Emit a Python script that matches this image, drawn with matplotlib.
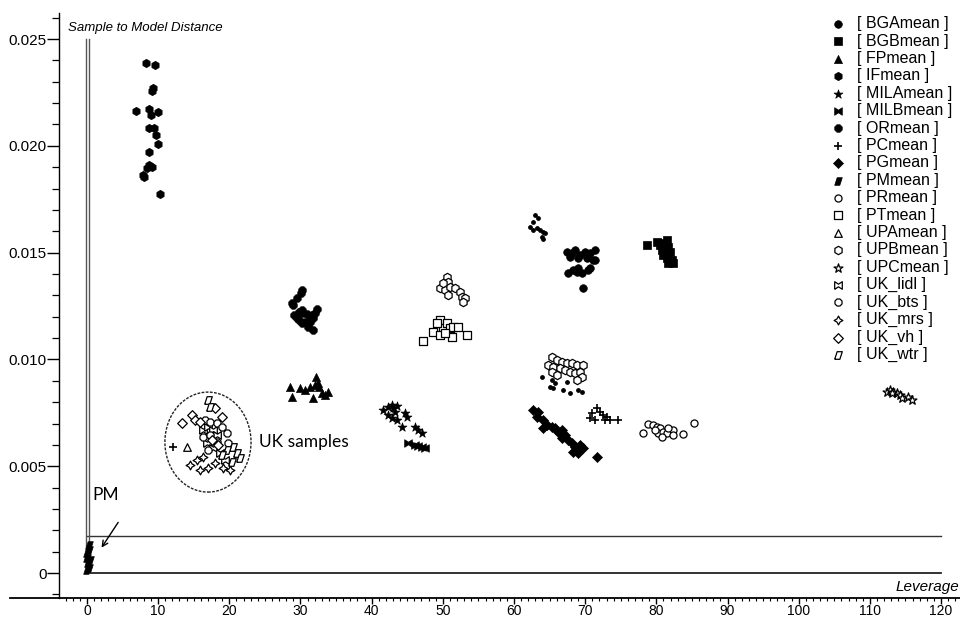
import matplotlib
matplotlib.use("Agg")
import matplotlib.pyplot as plt
from matplotlib import font_manager
from matplotlib.patches import Ellipse
from matplotlib.lines import Line2D
from matplotlib.ticker import MultipleLocator, FuncFormatter

# leverage / sample-to-model distance for each group
bga_lev = [67.4, 68.1, 68.57, 69.27, 69.97, 70.68, 71.38, 67.87, 69.03, 70.21, 71.14,
           67.63, 68.33, 69.03, 69.5, 70.44, 70.68, 69.74, 68.8, 71.38]
bga_dist = [0.01504, 0.01497, 0.01512, 0.01489, 0.01504, 0.01497, 0.01512, 0.01481, 0.01473,
            0.01473, 0.01465, 0.01406, 0.01419, 0.01427, 0.01403, 0.01419, 0.01427, 0.01333,
            0.01411, 0.01465]

bgb_lev = [78.64, 80.05, 80.51, 80.98, 81.45, 81.68, 80.75, 81.21, 81.92, 81.45, 82.15,
           82.38, 81.68, 80.98]
bgb_dist = [0.01536, 0.01551, 0.01536, 0.01544, 0.01559, 0.01528, 0.01512, 0.01497, 0.01504,
            0.01473, 0.01465, 0.0145, 0.0145, 0.01489]

fp_lev = [28.52, 28.85, 29.93, 30.63, 31.33, 32.13, 32.04, 32.64, 32.97, 33.44, 33.91, 31.8, 32.5]
fp_dist = [0.00872, 0.00826, 0.00865, 0.00857, 0.00869, 0.00919, 0.0088, 0.00872, 0.00841,
           0.00833, 0.00849, 0.00818, 0.00888]

if_lev = [8.25, 9.6, 9.23, 9.09, 6.84, 8.71, 8.99, 10.02, 8.71, 9.46, 9.65, 9.98, 8.67,
          8.75, 9.09, 8.43, 7.91, 8.05, 10.21]
if_dist = [0.02389, 0.02378, 0.02269, 0.02258, 0.02164, 0.02171, 0.02144, 0.0216, 0.02082,
           0.02085, 0.02051, 0.02008, 0.01971, 0.0191, 0.01902, 0.01895, 0.01863, 0.01855,
           0.01773]

mila_lev = [41.64, 42.34, 42.81, 43.04, 43.28, 43.51, 42.34, 42.81, 43.51, 44.22, 44.68,
            45.01, 46.09, 46.55, 47.03]
mila_dist = [0.00763, 0.00779, 0.00787, 0.00771, 0.00755, 0.00782, 0.0074, 0.00724, 0.00716,
             0.00685, 0.00748, 0.00732, 0.00685, 0.00669, 0.00654]

milb_lev = [45.15, 46.09, 46.55, 47.03, 47.49]
milb_dist = [0.00607, 0.00599, 0.00595, 0.00591, 0.00584]

or_lev = [30.17, 30.02, 29.46, 28.85, 28.99, 29.13, 29.46, 29.83, 30.17, 30.31, 30.87,
          29.83, 30.17, 30.63, 31.33, 31.8, 32.27, 32.04, 31.57, 31.8, 31.1, 31.33]
or_dist = [0.01325, 0.01309, 0.01286, 0.01266, 0.01255, 0.01208, 0.01192, 0.01223, 0.01231,
           0.01216, 0.01211, 0.01184, 0.01169, 0.01177, 0.01177, 0.01192, 0.01235, 0.01216,
           0.01208, 0.01138, 0.01153, 0.012]

pc_lev = [70.91, 71.62, 72.08, 72.55, 73.02, 73.48, 72.78, 74.65, 70.68, 71.38, 12.04]
pc_dist = [0.00748, 0.00771, 0.00755, 0.0074, 0.00732, 0.00716, 0.00716, 0.00716, 0.00724,
           0.00716, 0.00591]

pg_lev = [62.71, 63.41, 63.19, 64.12, 64.59, 64.12, 65.29, 65.76, 66.22, 66.7, 67.16, 66.7,
          67.63, 68.1, 68.57, 69.27, 68.33, 69.74, 69.03, 71.62]
pg_dist = [0.00763, 0.00755, 0.00732, 0.00716, 0.00693, 0.00677, 0.00685, 0.00677, 0.00662,
           0.00669, 0.00646, 0.00631, 0.00623, 0.00607, 0.00591, 0.00599, 0.00568, 0.00584,
           0.0056, 0.00545]

pm_lev = [0.33, 0.05, 0.0, 0.19, 0.33, 0.05, 0.42, 0.23]
pm_dist = [0.00131, 0.00092, 0.00069, 0.00045, 0.00022, 0.00014, 0.00061, 0.00108]

pr_lev = [78.08, 78.87, 79.57, 80.05, 80.51, 80.28, 80.98, 81.45, 80.75, 82.38, 82.38, 83.7,
          85.29, 79.81, 81.68]
pr_dist = [0.00657, 0.00698, 0.00693, 0.00685, 0.00677, 0.00654, 0.00662, 0.00657, 0.00638,
           0.00669, 0.00646, 0.00649, 0.00701, 0.00669, 0.00677]

pt_lev = [47.26, 48.66, 49.6, 50.07, 50.54, 51.0, 51.47, 52.17, 49.6, 51.24, 53.44, 49.14, 50.3]
pt_dist = [0.01088, 0.0113, 0.01184, 0.01146, 0.01169, 0.01146, 0.01153, 0.01153, 0.01114,
           0.01106, 0.01114, 0.01169, 0.01122]

upa_lev = [14.01]
upa_dist = [0.00591]

upb_lev = [50.54, 50.77, 49.6, 50.3, 51.0, 51.71, 52.41, 52.65, 53.11, 50.77, 52.88, 50.07,
           65.29, 65.99, 66.7, 67.4, 68.1, 68.81, 69.74, 64.82, 65.52, 66.46, 67.16, 67.87,
           68.57, 69.27, 69.5, 68.8, 65.29, 65.99]
upb_dist = [0.01387, 0.01364, 0.01333, 0.01325, 0.0134, 0.01333, 0.01317, 0.01294, 0.01286,
            0.01302, 0.0127, 0.01356, 0.01013, 0.00997, 0.00989, 0.00985, 0.00982, 0.00974,
            0.00974, 0.00974, 0.00966, 0.00958, 0.0095, 0.00942, 0.00935, 0.00942, 0.00919,
            0.00904, 0.00942, 0.00927]

upc_lev = [112.36, 112.83, 113.29, 113.76, 114.23, 114.47, 115.4, 115.87, 113.06]
upc_dist = [0.00849, 0.00857, 0.00849, 0.00841, 0.00833, 0.00818, 0.00826, 0.0081, 0.00841]

# small marks near leverage 63-69
trace_lev = [62.95, 63.41, 62.71, 62.25, 63.19, 63.65, 64.12, 64.35, 63.88, 64.02, 62.71,
             63.89, 65.29, 65.76, 65.06, 66.93, 67.87, 69.03, 69.5, 67.4, 65.52]
trace_dist = [0.01676, 0.01661, 0.01645, 0.01621, 0.01614, 0.01606, 0.01598, 0.0159, 0.01575,
              0.01562, 0.01606, 0.00919, 0.00904, 0.00888, 0.00872, 0.00857, 0.00841, 0.00857,
              0.00849, 0.00896, 0.00865]

lidl_lev = [16.34, 17.05, 17.75, 18.22, 16.81, 17.75, 18.69, 19.39]
lidl_dist = [0.00669, 0.00685, 0.00669, 0.00646, 0.00607, 0.00584, 0.0056, 0.00529]

bts_lev = [16.58, 17.28, 18.22, 18.92, 16.34, 17.28, 19.63, 17.05, 18.22, 19.85]
bts_dist = [0.00716, 0.00708, 0.00701, 0.00685, 0.00638, 0.00646, 0.00654, 0.00576, 0.00615,
            0.00607]

mrs_lev = [14.47, 15.41, 15.88, 17.05, 17.99, 19.15, 20.09, 16.34]
mrs_dist = [0.00506, 0.00529, 0.00482, 0.0049, 0.00514, 0.0049, 0.00482, 0.00545]

vh_lev = [13.3, 14.71, 15.17, 17.99, 18.92, 15.88, 17.52, 18.45]
vh_dist = [0.00701, 0.0074, 0.00716, 0.00771, 0.00732, 0.00708, 0.00623, 0.00599]

wtr_lev = [17.05, 17.28, 20.56, 21.03, 21.5, 20.33, 19.63, 18.92]
wtr_dist = [0.0081, 0.00779, 0.00591, 0.0056, 0.00537, 0.00521, 0.00576, 0.00552]

xticks = list(range(0, 121, 10))
yticks = [0, 0.005, 0.010, 0.015, 0.020, 0.025]
dist_limit = 0.00173

names = {f.name for f in font_manager.fontManager.ttflist}
narrow = 'Liberation Sans Narrow' if 'Liberation Sans Narrow' in names else 'Liberation Sans'
plt.rcParams['font.family'] = [narrow, 'DejaVu Sans']

# closed outlines for the custom markers
bowtie = [(-1, -1), (0, -0.35), (1, -1), (1, 1), (0, 0.35), (-1, 1), (-1, -1)]
para = [(-1, -1), (0.35, -1), (1, 1), (-0.35, 1), (-1, -1)]

# label, x, y, marker, filled, size
series = [
    ('BGAmean', bga_lev, bga_dist, 'o', True, 30),
    ('BGBmean', bgb_lev, bgb_dist, 's', True, 28),
    ('FPmean', fp_lev, fp_dist, '^', True, 34),
    ('IFmean', if_lev, if_dist, 'h', True, 36),
    ('MILAmean', mila_lev, mila_dist, '*', True, 45),
    ('MILBmean', milb_lev, milb_dist, bowtie, True, 30),
    ('ORmean', or_lev, or_dist, '8', True, 34),
    ('PCmean', pc_lev, pc_dist, '+', True, 40),
    ('PGmean', pg_lev, pg_dist, 'D', True, 26),
    ('PMmean', pm_lev, pm_dist, para, True, 30),
    ('PRmean', pr_lev, pr_dist, 'o', False, 26),
    ('PTmean', pt_lev, pt_dist, 's', False, 26),
    ('UPAmean', upa_lev, upa_dist, '^', False, 30),
    ('UPBmean', upb_lev, upb_dist, 'h', False, 36),
    ('UPCmean', upc_lev, upc_dist, '*', False, 45),
    ('UK_lidl', lidl_lev, lidl_dist, bowtie, False, 30),
    ('UK_bts', bts_lev, bts_dist, '8', False, 30),
    ('UK_mrs', mrs_lev, mrs_dist, (4, 1, 0), False, 40),
    ('UK_vh', vh_lev, vh_dist, 'D', False, 24),
    ('UK_wtr', wtr_lev, wtr_dist, para, False, 30),
]

fig = plt.figure(figsize=(9.6, 6.19), dpi=100)
ax = fig.add_axes([59 / 960, 21 / 619, 901 / 960, 585 / 619])

for label, x, y, m, filled, s in series:
    if m == '+':
        ax.scatter(x, y, s=s, marker=m, color='black', linewidths=1.2, label='[ %s ]' % label, zorder=3)
    elif filled:
        ax.scatter(x, y, s=s, marker=m, color='black', linewidths=0.5, label='[ %s ]' % label, zorder=3)
    else:
        ax.scatter(x, y, s=s, marker=m, facecolors='white', edgecolors='black',
                   linewidths=0.9, label='[ %s ]' % label, zorder=3)

ax.scatter(trace_lev, trace_dist, s=6, marker='o', color='black', zorder=3)

# limit lines
ax.plot([0, 120], [0, 0], color='#222222', lw=1.3, zorder=2)
ax.plot([0, 120], [dist_limit, dist_limit], color='#333333', lw=1.0, zorder=2)
ax.plot([-0.15, -0.15], [0, 0.025], color='#555555', lw=1.0, zorder=2)
ax.plot([0.3, 0.3], [0, 0.025], color='#555555', lw=1.0, zorder=2)

ax.set_xlim(-3.93, 122.66)
ax.set_ylim(-0.00117, 0.02622)

for side in ['top', 'right']:
    ax.spines[side].set_visible(False)
ax.spines['left'].set_linewidth(1.0)
ax.spines['bottom'].set_linewidth(1.3)
fig.add_artist(Line2D([10 / 960, 59 / 960], [21 / 619, 21 / 619], color='black', lw=1.3))

ax.set_xticks(xticks)
ax.xaxis.set_minor_locator(MultipleLocator(1))
ax.set_yticks(yticks)
ax.yaxis.set_minor_locator(MultipleLocator(0.001))
ax.yaxis.set_major_formatter(FuncFormatter(lambda v, p: '0' if abs(v) < 1e-9 else '%.3f' % v))
ax.tick_params(axis='y', which='major', labelsize=11, length=8.5, width=1, pad=0.5)
ax.tick_params(axis='y', which='minor', length=5, width=0.9)
ax.tick_params(axis='x', which='major', labelsize=10, length=4, width=1, pad=0.5)
ax.tick_params(axis='x', which='minor', length=2.2, width=0.8)

ax.text(-2.67, 0.02551, 'Sample to Model Distance', fontsize=9.5, style='italic', ha='left', va='center')
ax.text(122.5, -0.00066, 'Leverage', fontsize=11, style='italic', ha='right', va='center')

ax.add_patch(Ellipse((17.0, 0.00613), 12.1, 0.00468, fill=False, edgecolor='#222222',
                     linestyle=(0, (2, 1)), lw=1.0, zorder=4))
ax.text(24.2, 0.00613, 'UK samples', fontsize=12.5, family=['Lato', 'DejaVu Sans'],
        ha='left', va='center')
ax.text(0.8, 0.00365, 'PM', fontsize=12.5, family=['Lato', 'DejaVu Sans'], ha='left', va='center')
ax.annotate('', xy=(1.83, 0.00108), xytext=(4.6, 0.00248),
            arrowprops=dict(arrowstyle='->', color='black', lw=1.0))

ax.legend(loc='upper right', bbox_to_anchor=(0.995, 1.0), frameon=False, fontsize=11.5,
          scatterpoints=1, handletextpad=0.7, labelspacing=0.15, borderaxespad=0.1,
          borderpad=0.1, handlelength=1.0)

fig.savefig('out.png', dpi=100)
